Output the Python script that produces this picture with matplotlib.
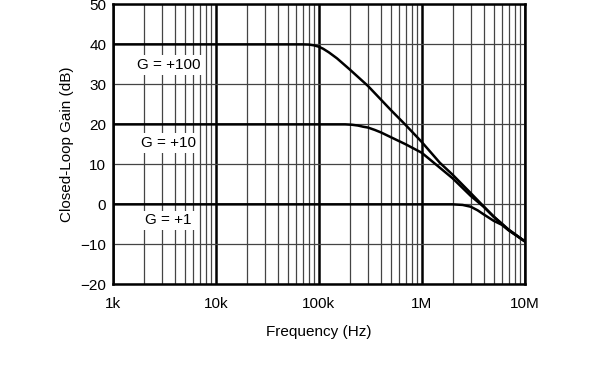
import matplotlib
matplotlib.use("Agg")
import matplotlib.pyplot as plt
from matplotlib.ticker import FixedLocator, NullFormatter

plt.rcParams['font.family'] = ['Liberation Sans', 'DejaVu Sans']

# closed-loop gain curves (Hz, dB)
freq_g100 = [1e3, 70e3, 80e3, 90e3, 100e3, 110e3, 125e3, 150e3, 200e3, 300e3, 500e3,
             700e3, 1e6, 1.5e6, 2e6, 3e6, 4e6, 5e6, 7e6, 10e6]
gain_g100 = [40, 40, 39.95, 39.75, 39.4, 38.9, 38.0, 36.5, 33.7, 29.6, 23.6,
             19.8, 15.6, 10.4, 7.4, 2.8, -0.5, -3.0, -6.3, -9.2]

freq_g10 = [1e3, 180e3, 210e3, 240e3, 270e3, 300e3, 350e3, 400e3, 500e3, 700e3,
            1e6, 1.4e6, 2e6, 3e6, 4e6, 5e6, 7e6, 10e6]
gain_g10 = [20, 20, 19.9, 19.7, 19.4, 19.2, 18.6, 18.0, 16.8, 15.0,
            12.9, 9.8, 6.5, 2.1, -0.6, -3.1, -6.4, -9.2]

freq_g1 = [1e3, 2e6, 2.5e6, 3e6, 3.5e6, 4e6, 5e6, 6e6, 7e6, 10e6]
gain_g1 = [0, 0, -0.15, -0.6, -1.5, -2.5, -4.1, -5.1, -6.5, -9.2]

curve_labels = ["G = +100", "G = +10", "G = +1"]
label_gain = [34.8, 15.3, -4.0]

x_ticks = [1e3, 1e4, 1e5, 1e6, 1e7]
x_tick_labels = ["1k", "10k", "100k", "1M", "10M"]
y_ticks = [-20, -10, 0, 10, 20, 30, 40, 50]
y_tick_labels = ["\u221220", "\u221210", "0", "10", "20", "30", "40", "50"]

fig = plt.figure(figsize=(6.04, 3.84), dpi=100)
ax = fig.add_axes([0.1876, 0.2596, 0.6808, 0.729])

ax.set_xscale("log")
ax.set_xlim(1e3, 1e7)
ax.set_ylim(-20, 50)

# grid
minor = [m * 10**e for e in range(3, 7) for m in range(2, 10)]
ax.xaxis.set_minor_locator(FixedLocator(minor))
ax.xaxis.set_minor_formatter(NullFormatter())
ax.set_xticks(x_ticks)
ax.set_xticklabels(x_tick_labels)
ax.set_yticks(y_ticks)
ax.set_yticklabels(y_tick_labels)
ax.grid(True, which="minor", axis="x", color="#444444", lw=0.9)
ax.grid(True, which="major", axis="x", color="black", lw=1.8)
ax.grid(True, which="major", axis="y", color="#444444", lw=0.9)
ax.tick_params(which="both", length=0, labelsize=11)
ax.tick_params(axis="x", pad=9)
ax.tick_params(axis="y", pad=5)
ax.set_axisbelow(True)
for s in ax.spines.values():
    s.set_linewidth(1.8)

ax.plot(freq_g100, gain_g100, color="black", lw=1.8)
ax.plot(freq_g10, gain_g10, color="black", lw=1.8)
ax.plot(freq_g1, gain_g1, color="black", lw=1.8)

for lbl, g in zip(curve_labels, label_gain):
    ax.text(3.46e3, g, lbl, ha="center", va="center", fontsize=11,
            bbox=dict(facecolor="white", edgecolor="none", pad=2))

ax.set_xlabel("Frequency (Hz)", fontsize=11, labelpad=10)
ax.set_ylabel("Closed-Loop Gain (dB)", fontsize=11, labelpad=5)

fig.savefig("out.png", dpi=100)
